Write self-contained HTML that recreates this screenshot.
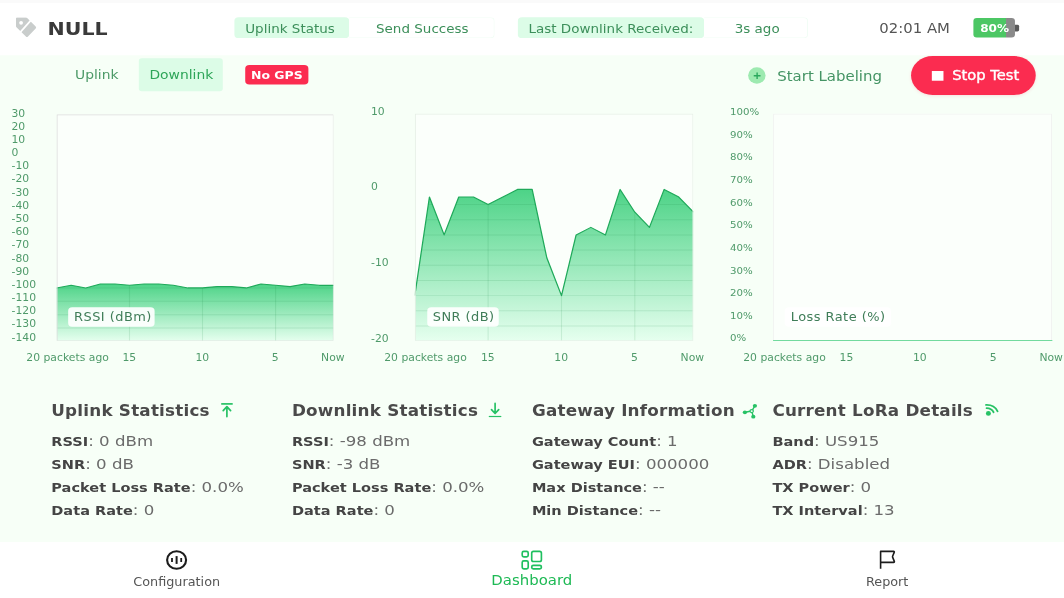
<!DOCTYPE html>
<html><head><meta charset="utf-8">
<style>
*{box-sizing:border-box;margin:0;padding:0}
html,body{width:1064px;height:598px;overflow:hidden;background:#f7fff7}
#root{position:absolute;left:0;top:0;width:1280px;height:800px;transform-origin:0 0;transform:scale(0.83125,0.7475);font-family:"DejaVu Sans","Liberation Sans",sans-serif;background:#f7fff7}
b{font-weight:bold}
</style></head><body><div id="root">
<div style="position:absolute;left:0.00px;top:0.00px;width:1280.00px;height:73.58px;background:#fff"></div>
<div style="position:absolute;left:0.00px;top:0.00px;width:1280.00px;height:4.01px;background:#fafafa"></div>
<svg style="position:absolute;left:18.65px;top:23.41px" width="25.26" height="28.09" viewBox="0 0 21 21" preserveAspectRatio="none"><path d="M1.2,0.3 H10.3 a1.5,1.5 0 0 1 1.05,0.45 L19.9,9.3 a1.5,1.5 0 0 1 0,2.1 L12.2,19.4 a1.5,1.5 0 0 1 -2.1,0 L0.65,10 a1.5,1.5 0 0 1 -0.45,-1.05 V1.3 a1,1 0 0 1 1,-1 Z" fill="#c9cdcc"/><circle cx="5.3" cy="5.6" r="1.9" fill="#fff"/><line x1="16.6" y1="1.4" x2="2.6" y2="17.2" stroke="#fff" stroke-width="1.7"/></svg>
<div style="position:absolute;left:57.26px;top:24px;font-size:24.75px;line-height:29px;white-space:nowrap;transform:translate(0,0.36px);font-weight:bold;color:#3a3a3a">NULL</div>
<div style="position:absolute;left:281.86px;top:22.88px;width:137.98px;height:28.36px;background:#dcfce7;border-radius:5px"></div>
<div style="position:absolute;left:419.85px;top:22.88px;width:175.64px;height:28.36px;background:#fff;border:1.3px solid #f0fdf4;border-left:none;border-radius:0 5px 5px 0"></div>
<div style="position:absolute;left:294.98px;top:29px;font-size:16.25px;line-height:19px;white-space:nowrap;transform:translate(0,0.01px);color:#3c8f5a;">Uplink Status</div>
<div style="position:absolute;left:508.03px;top:29px;font-size:16.25px;line-height:19px;white-space:nowrap;transform:translate(-50%,0.01px);color:#3c8f5a;">Send Success</div>
<div style="position:absolute;left:622.56px;top:22.88px;width:224.00px;height:28.36px;background:#dcfce7;border-radius:5px"></div>
<div style="position:absolute;left:846.56px;top:22.88px;width:125.11px;height:28.36px;background:#fff;border:1.3px solid #f0fdf4;border-left:none;border-radius:0 5px 5px 0"></div>
<div style="position:absolute;left:635.67px;top:29px;font-size:16.25px;line-height:19px;white-space:nowrap;transform:translate(0,0.01px);color:#3c8f5a;">Last Downlink Received:</div>
<div style="position:absolute;left:910.92px;top:29px;font-size:16.25px;line-height:19px;white-space:nowrap;transform:translate(-50%,0.01px);color:#3c8f5a;">3s ago</div>
<div style="position:absolute;left:1057.80px;top:27px;font-size:17.9px;line-height:21px;white-space:nowrap;transform:translate(0,0.15px);color:#555">02:01 AM</div>
<div style="position:absolute;left:1170.53px;top:24.08px;width:50.05px;height:25.95px;border-radius:4px;background:linear-gradient(90deg,#4cc764 0,#4cc764 79.5%,#8a8a8a 79.5%)"></div>
<div style="position:absolute;left:1196.51px;top:30px;font-size:14.5px;line-height:16px;white-space:nowrap;transform:translate(-50%,0.34px);font-weight:bold;color:#fff">80%</div>
<div style="position:absolute;left:1221.41px;top:32.51px;width:4.33px;height:9.23px;background:#5a5a5a;border-radius:0 2px 2px 0"></div>
<div style="position:absolute;left:90.23px;top:91px;font-size:16.7px;line-height:19px;white-space:nowrap;transform:translate(0,0.35px);color:#4d9a68">Uplink</div>
<div style="position:absolute;left:166.98px;top:77.59px;width:100.57px;height:44.01px;background:#dcfce7;border-radius:3.5px"></div>
<div style="position:absolute;left:218.11px;top:91px;font-size:16.7px;line-height:19px;white-space:nowrap;transform:translate(-50%,0.35px);color:#2da558">Downlink</div>
<div style="position:absolute;left:294.74px;top:86.82px;width:76.51px;height:26.09px;background:#fb2c50;border-radius:5px"></div>
<div style="position:absolute;left:332.99px;top:92px;font-size:15px;line-height:18px;white-space:nowrap;transform:translate(-50%,0.22px);font-weight:bold;color:#fff">No GPS</div>
<div style="position:absolute;left:899.61px;top:89.63px;width:21.65px;height:22.74px;background:#9deab0;border-radius:50%"><svg width="100%" height="100%" viewBox="0 0 18 18" preserveAspectRatio="none"><path d="M9 5.6V12.4M5.6 9H12.4" stroke="#2aa85c" stroke-width="1.4" fill="none"/></svg></div>
<div style="position:absolute;left:934.98px;top:91px;font-size:18px;line-height:21px;white-space:nowrap;transform:translate(0,0.09px);color:#449464">Start Labeling</div>
<div style="position:absolute;left:1095.94px;top:74.65px;width:150.14px;height:52.71px;background:#fb2c50;border-radius:999px;box-shadow:0 1.5px 4px rgba(251,44,80,0.15)"></div>
<div style="position:absolute;left:1120.60px;top:94.58px;width:14.08px;height:13.65px;background:#fff"></div>
<div style="position:absolute;left:1145.50px;top:92px;font-size:17.7px;line-height:20px;white-space:nowrap;transform:translate(0,-0.31px);color:#fff;-webkit-text-stroke:0.5px #fff">Stop Test</div>
<svg style="position:absolute;left:67.73px;top:152.51px" width="333.71" height="303.68" viewBox="0 0 333.71 303.68">
<rect x="0" y="0" width="333.71" height="303.68" fill="#fbfffb"/>
<defs><linearGradient id="g1" gradientUnits="userSpaceOnUse" x1="0" y1="226.9" x2="0" y2="303.7"><stop offset="0" stop-color="#4dd387"/><stop offset="1" stop-color="#e6ffef"/></linearGradient><clipPath id="c1"><path d="M0.0,232.2 L17.6,228.7 L35.1,232.2 L52.7,226.9 L70.3,226.9 L87.8,228.7 L105.4,226.9 L122.9,226.9 L140.5,228.7 L158.1,232.2 L175.6,232.2 L193.2,230.4 L210.8,230.4 L228.3,232.2 L245.9,226.9 L263.5,228.7 L281.0,230.4 L298.6,226.9 L316.2,228.7 L333.7,228.7 L333.7,303.7 L0,303.7 Z"/></clipPath></defs>
<path d="M0.0,232.2 L17.6,228.7 L35.1,232.2 L52.7,226.9 L70.3,226.9 L87.8,228.7 L105.4,226.9 L122.9,226.9 L140.5,228.7 L158.1,232.2 L175.6,232.2 L193.2,230.4 L210.8,230.4 L228.3,232.2 L245.9,226.9 L263.5,228.7 L281.0,230.4 L298.6,226.9 L316.2,228.7 L333.7,228.7 L333.7,303.7 L0,303.7 Z" fill="url(#g1)"/>
<g clip-path="url(#c1)" stroke="#15803d" stroke-opacity="0.13" stroke-width="1.3">
<line x1="0" y1="17.9" x2="333.7" y2="17.9"/>
<line x1="0" y1="35.7" x2="333.7" y2="35.7"/>
<line x1="0" y1="53.6" x2="333.7" y2="53.6"/>
<line x1="0" y1="71.5" x2="333.7" y2="71.5"/>
<line x1="0" y1="89.3" x2="333.7" y2="89.3"/>
<line x1="0" y1="107.2" x2="333.7" y2="107.2"/>
<line x1="0" y1="125.0" x2="333.7" y2="125.0"/>
<line x1="0" y1="142.9" x2="333.7" y2="142.9"/>
<line x1="0" y1="160.8" x2="333.7" y2="160.8"/>
<line x1="0" y1="178.6" x2="333.7" y2="178.6"/>
<line x1="0" y1="196.5" x2="333.7" y2="196.5"/>
<line x1="0" y1="214.4" x2="333.7" y2="214.4"/>
<line x1="0" y1="232.2" x2="333.7" y2="232.2"/>
<line x1="0" y1="250.1" x2="333.7" y2="250.1"/>
<line x1="0" y1="268.0" x2="333.7" y2="268.0"/>
<line x1="0" y1="285.8" x2="333.7" y2="285.8"/>
<line x1="87.8" y1="0" x2="87.8" y2="303.7"/>
<line x1="175.6" y1="0" x2="175.6" y2="303.7"/>
<line x1="263.5" y1="0" x2="263.5" y2="303.7"/>
</g>
<path d="M0.0,232.2 L17.6,228.7 L35.1,232.2 L52.7,226.9 L70.3,226.9 L87.8,228.7 L105.4,226.9 L122.9,226.9 L140.5,228.7 L158.1,232.2 L175.6,232.2 L193.2,230.4 L210.8,230.4 L228.3,232.2 L245.9,226.9 L263.5,228.7 L281.0,230.4 L298.6,226.9 L316.2,228.7 L333.7,228.7" fill="none" stroke="#1fa95a" stroke-width="1.5" stroke-linejoin="round"/>
<rect x="0.6" y="0.6" width="332.51" height="302.48" fill="none" stroke="#dcdcdc" stroke-width="1.2"/>
</svg>
<div style="position:absolute;left:13.83px;top:144px;font-size:13px;line-height:15px;white-space:nowrap;transform:translate(0,-0.08px);color:#4f9a6a;">30</div>
<div style="position:absolute;left:13.83px;top:162px;font-size:13px;line-height:15px;white-space:nowrap;transform:translate(0,-0.45px);color:#4f9a6a;">20</div>
<div style="position:absolute;left:13.83px;top:179px;font-size:13px;line-height:15px;white-space:nowrap;transform:translate(0,0.18px);color:#4f9a6a;">10</div>
<div style="position:absolute;left:13.83px;top:197px;font-size:13px;line-height:15px;white-space:nowrap;transform:translate(0,-0.18px);color:#4f9a6a;">0</div>
<div style="position:absolute;left:13.83px;top:214px;font-size:13px;line-height:15px;white-space:nowrap;transform:translate(0,0.45px);color:#4f9a6a;">-10</div>
<div style="position:absolute;left:13.83px;top:232px;font-size:13px;line-height:15px;white-space:nowrap;transform:translate(0,0.08px);color:#4f9a6a;">-20</div>
<div style="position:absolute;left:13.83px;top:250px;font-size:13px;line-height:15px;white-space:nowrap;transform:translate(0,-0.29px);color:#4f9a6a;">-30</div>
<div style="position:absolute;left:13.83px;top:267px;font-size:13px;line-height:15px;white-space:nowrap;transform:translate(0,0.34px);color:#4f9a6a;">-40</div>
<div style="position:absolute;left:13.83px;top:285px;font-size:13px;line-height:15px;white-space:nowrap;transform:translate(0,-0.02px);color:#4f9a6a;">-50</div>
<div style="position:absolute;left:13.83px;top:303px;font-size:13px;line-height:15px;white-space:nowrap;transform:translate(0,-0.39px);color:#4f9a6a;">-60</div>
<div style="position:absolute;left:13.83px;top:320px;font-size:13px;line-height:15px;white-space:nowrap;transform:translate(0,0.24px);color:#4f9a6a;">-70</div>
<div style="position:absolute;left:13.83px;top:338px;font-size:13px;line-height:15px;white-space:nowrap;transform:translate(0,-0.13px);color:#4f9a6a;">-80</div>
<div style="position:absolute;left:13.83px;top:356px;font-size:13px;line-height:15px;white-space:nowrap;transform:translate(0,-0.49px);color:#4f9a6a;">-90</div>
<div style="position:absolute;left:13.83px;top:373px;font-size:13px;line-height:15px;white-space:nowrap;transform:translate(0,0.14px);color:#4f9a6a;">-100</div>
<div style="position:absolute;left:13.83px;top:391px;font-size:13px;line-height:15px;white-space:nowrap;transform:translate(0,-0.23px);color:#4f9a6a;">-110</div>
<div style="position:absolute;left:13.83px;top:408px;font-size:13px;line-height:15px;white-space:nowrap;transform:translate(0,0.40px);color:#4f9a6a;">-120</div>
<div style="position:absolute;left:13.83px;top:426px;font-size:13px;line-height:15px;white-space:nowrap;transform:translate(0,0.03px);color:#4f9a6a;">-130</div>
<div style="position:absolute;left:13.83px;top:444px;font-size:13px;line-height:15px;white-space:nowrap;transform:translate(0,-0.33px);color:#4f9a6a;">-140</div>
<div style="position:absolute;left:81.32px;top:471px;font-size:13px;line-height:15px;white-space:nowrap;transform:translate(-50%,0.08px);color:#4f9a6a;">20 packets ago</div>
<div style="position:absolute;left:155.55px;top:471px;font-size:13px;line-height:15px;white-space:nowrap;transform:translate(-50%,0.08px);color:#4f9a6a;">15</div>
<div style="position:absolute;left:243.37px;top:471px;font-size:13px;line-height:15px;white-space:nowrap;transform:translate(-50%,0.08px);color:#4f9a6a;">10</div>
<div style="position:absolute;left:331.19px;top:471px;font-size:13px;line-height:15px;white-space:nowrap;transform:translate(-50%,0.08px);color:#4f9a6a;">5</div>
<div style="position:absolute;left:400.48px;top:471px;font-size:13px;line-height:15px;white-space:nowrap;transform:translate(-50%,0.08px);color:#4f9a6a;">Now</div>
<div style="position:absolute;left:82.17px;top:411.10px;width:104.30px;height:26.09px;border-radius:5px;background:rgba(255,255,255,0.92)"></div>
<div style="position:absolute;left:89.02px;top:415px;font-size:15.6px;line-height:18px;white-space:nowrap;transform:translate(0,0.30px);color:#3f7d58;letter-spacing:0.55px">RSSI (dBm)</div>
<svg style="position:absolute;left:498.65px;top:151.84px" width="335.28" height="304.35" viewBox="0 0 335.28 304.35">
<rect x="0" y="0" width="335.28" height="304.35" fill="#fbfffb"/>
<defs><linearGradient id="g2" gradientUnits="userSpaceOnUse" x1="0" y1="101.4" x2="0" y2="304.3"><stop offset="0" stop-color="#4dd387"/><stop offset="1" stop-color="#e6ffef"/></linearGradient><clipPath id="c2"><path d="M0.0,243.5 L17.6,111.6 L35.3,162.3 L52.9,111.6 L70.6,111.6 L88.2,121.7 L105.9,111.6 L123.5,101.4 L141.2,101.4 L158.8,192.8 L176.5,243.5 L194.1,162.3 L211.8,152.2 L229.4,162.3 L247.0,101.4 L264.7,131.9 L282.3,152.2 L300.0,101.4 L317.6,111.6 L335.3,131.9 L335.3,304.3 L0,304.3 Z"/></clipPath></defs>
<path d="M0.0,243.5 L17.6,111.6 L35.3,162.3 L52.9,111.6 L70.6,111.6 L88.2,121.7 L105.9,111.6 L123.5,101.4 L141.2,101.4 L158.8,192.8 L176.5,243.5 L194.1,162.3 L211.8,152.2 L229.4,162.3 L247.0,101.4 L264.7,131.9 L282.3,152.2 L300.0,101.4 L317.6,111.6 L335.3,131.9 L335.3,304.3 L0,304.3 Z" fill="url(#g2)"/>
<g clip-path="url(#c2)" stroke="#15803d" stroke-opacity="0.13" stroke-width="1.3">
<line x1="0" y1="20.3" x2="335.3" y2="20.3"/>
<line x1="0" y1="40.6" x2="335.3" y2="40.6"/>
<line x1="0" y1="60.9" x2="335.3" y2="60.9"/>
<line x1="0" y1="81.2" x2="335.3" y2="81.2"/>
<line x1="0" y1="101.4" x2="335.3" y2="101.4"/>
<line x1="0" y1="121.7" x2="335.3" y2="121.7"/>
<line x1="0" y1="142.0" x2="335.3" y2="142.0"/>
<line x1="0" y1="162.3" x2="335.3" y2="162.3"/>
<line x1="0" y1="182.6" x2="335.3" y2="182.6"/>
<line x1="0" y1="202.9" x2="335.3" y2="202.9"/>
<line x1="0" y1="223.2" x2="335.3" y2="223.2"/>
<line x1="0" y1="243.5" x2="335.3" y2="243.5"/>
<line x1="0" y1="263.8" x2="335.3" y2="263.8"/>
<line x1="0" y1="284.1" x2="335.3" y2="284.1"/>
<line x1="88.2" y1="0" x2="88.2" y2="304.3"/>
<line x1="176.5" y1="0" x2="176.5" y2="304.3"/>
<line x1="264.7" y1="0" x2="264.7" y2="304.3"/>
</g>
<path d="M0.0,243.5 L17.6,111.6 L35.3,162.3 L52.9,111.6 L70.6,111.6 L88.2,121.7 L105.9,111.6 L123.5,101.4 L141.2,101.4 L158.8,192.8 L176.5,243.5 L194.1,162.3 L211.8,152.2 L229.4,162.3 L247.0,101.4 L264.7,131.9 L282.3,152.2 L300.0,101.4 L317.6,111.6 L335.3,131.9" fill="none" stroke="#1fa95a" stroke-width="1.5" stroke-linejoin="round"/>
<rect x="0.6" y="0.6" width="334.08" height="303.15" fill="none" stroke="#e6efe6" stroke-width="1.2"/>
</svg>
<div style="position:absolute;left:446.32px;top:142px;font-size:13px;line-height:15px;white-space:nowrap;transform:translate(0,0.31px);color:#4f9a6a;">10</div>
<div style="position:absolute;left:446.32px;top:243px;font-size:13px;line-height:15px;white-space:nowrap;transform:translate(0,-0.48px);color:#4f9a6a;">0</div>
<div style="position:absolute;left:446.32px;top:344px;font-size:13px;line-height:15px;white-space:nowrap;transform:translate(0,-0.21px);color:#4f9a6a;">-10</div>
<div style="position:absolute;left:446.32px;top:446px;font-size:13px;line-height:15px;white-space:nowrap;transform:translate(0,-0.27px);color:#4f9a6a;">-20</div>
<div style="position:absolute;left:511.88px;top:471px;font-size:13px;line-height:15px;white-space:nowrap;transform:translate(-50%,0.08px);color:#4f9a6a;">20 packets ago</div>
<div style="position:absolute;left:586.88px;top:471px;font-size:13px;line-height:15px;white-space:nowrap;transform:translate(-50%,0.08px);color:#4f9a6a;">15</div>
<div style="position:absolute;left:675.11px;top:471px;font-size:13px;line-height:15px;white-space:nowrap;transform:translate(-50%,0.08px);color:#4f9a6a;">10</div>
<div style="position:absolute;left:763.34px;top:471px;font-size:13px;line-height:15px;white-space:nowrap;transform:translate(-50%,0.08px);color:#4f9a6a;">5</div>
<div style="position:absolute;left:832.96px;top:471px;font-size:13px;line-height:15px;white-space:nowrap;transform:translate(-50%,0.08px);color:#4f9a6a;">Now</div>
<div style="position:absolute;left:513.68px;top:411.10px;width:86.62px;height:26.09px;border-radius:5px;background:rgba(255,255,255,0.92)"></div>
<div style="position:absolute;left:520.54px;top:415px;font-size:15.6px;line-height:18px;white-space:nowrap;transform:translate(0,0.30px);color:#3f7d58;letter-spacing:0.55px">SNR (dB)</div>
<svg style="position:absolute;left:929.92px;top:151.84px" width="335.64" height="304.35" viewBox="0 0 335.64 304.35">
<rect x="0" y="0" width="335.64" height="304.35" fill="#fbfffb"/>
<rect x="0.6" y="0.6" width="334.44" height="303.15" fill="none" stroke="#f1f3f1" stroke-width="1.2"/>
</svg>
<div style="position:absolute;left:878.20px;top:143px;font-size:12.3px;line-height:14px;white-space:nowrap;transform:translate(0,0.19px);color:#4f9a6a;">100%</div>
<div style="position:absolute;left:878.20px;top:173px;font-size:12.3px;line-height:14px;white-space:nowrap;transform:translate(0,0.45px);color:#4f9a6a;">90%</div>
<div style="position:absolute;left:878.20px;top:204px;font-size:12.3px;line-height:14px;white-space:nowrap;transform:translate(0,-0.29px);color:#4f9a6a;">80%</div>
<div style="position:absolute;left:878.20px;top:234px;font-size:12.3px;line-height:14px;white-space:nowrap;transform:translate(0,-0.03px);color:#4f9a6a;">70%</div>
<div style="position:absolute;left:878.20px;top:264px;font-size:12.3px;line-height:14px;white-space:nowrap;transform:translate(0,0.23px);color:#4f9a6a;">60%</div>
<div style="position:absolute;left:878.20px;top:294px;font-size:12.3px;line-height:14px;white-space:nowrap;transform:translate(0,0.49px);color:#4f9a6a;">50%</div>
<div style="position:absolute;left:878.20px;top:325px;font-size:12.3px;line-height:14px;white-space:nowrap;transform:translate(0,-0.25px);color:#4f9a6a;">40%</div>
<div style="position:absolute;left:878.20px;top:355px;font-size:12.3px;line-height:14px;white-space:nowrap;transform:translate(0,0.01px);color:#4f9a6a;">30%</div>
<div style="position:absolute;left:878.20px;top:385px;font-size:12.3px;line-height:14px;white-space:nowrap;transform:translate(0,0.27px);color:#4f9a6a;">20%</div>
<div style="position:absolute;left:878.20px;top:416px;font-size:12.3px;line-height:14px;white-space:nowrap;transform:translate(0,-0.47px);color:#4f9a6a;">10%</div>
<div style="position:absolute;left:878.20px;top:446px;font-size:12.3px;line-height:14px;white-space:nowrap;transform:translate(0,-0.21px);color:#4f9a6a;">0%</div>
<div style="position:absolute;left:943.76px;top:471px;font-size:13px;line-height:15px;white-space:nowrap;transform:translate(-50%,0.08px);color:#4f9a6a;">20 packets ago</div>
<div style="position:absolute;left:1018.25px;top:471px;font-size:13px;line-height:15px;white-space:nowrap;transform:translate(-50%,0.08px);color:#4f9a6a;">15</div>
<div style="position:absolute;left:1106.58px;top:471px;font-size:13px;line-height:15px;white-space:nowrap;transform:translate(-50%,0.08px);color:#4f9a6a;">10</div>
<div style="position:absolute;left:1194.90px;top:471px;font-size:13px;line-height:15px;white-space:nowrap;transform:translate(-50%,0.08px);color:#4f9a6a;">5</div>
<div style="position:absolute;left:1264.60px;top:471px;font-size:13px;line-height:15px;white-space:nowrap;transform:translate(-50%,0.08px);color:#4f9a6a;">Now</div>
<div style="position:absolute;left:944.36px;top:411.10px;width:127.52px;height:26.09px;border-radius:5px;background:rgba(255,255,255,0.92)"></div>
<div style="position:absolute;left:951.22px;top:415px;font-size:15.6px;line-height:18px;white-space:nowrap;transform:translate(0,0.30px);color:#3f7d58;letter-spacing:0.55px">Loss Rate (%)</div>
<div style="position:absolute;left:929.92px;top:454.58px;width:335.64px;height:1.87px;background:#45d180"></div>
<div style="position:absolute;left:61.71px;top:538px;font-size:20.2px;line-height:24px;white-space:nowrap;transform:translate(0,-0.21px);font-weight:bold;color:#4a4a4a;letter-spacing:0.25px">Uplink Statistics</div>
<div style="position:absolute;left:61.71px;top:578px;font-size:20px;line-height:24px;white-space:nowrap;transform:translate(0,-0.08px);color:#6b6b6b"><b style="font-size:17.5px;color:#444">RSSI</b>: 0 dBm</div>
<div style="position:absolute;left:61.71px;top:609px;font-size:20px;line-height:24px;white-space:nowrap;transform:translate(0,-0.31px);color:#6b6b6b"><b style="font-size:17.5px;color:#444">SNR</b>: 0 dB</div>
<div style="position:absolute;left:61.71px;top:639px;font-size:20px;line-height:24px;white-space:nowrap;transform:translate(0,-0.07px);color:#6b6b6b"><b style="font-size:17.5px;color:#444">Packet Loss Rate</b>: 0.0%</div>
<div style="position:absolute;left:61.71px;top:670px;font-size:20px;line-height:24px;white-space:nowrap;transform:translate(0,-0.44px);color:#6b6b6b"><b style="font-size:17.5px;color:#444">Data Rate</b>: 0</div>
<div style="position:absolute;left:351.16px;top:538px;font-size:20.2px;line-height:24px;white-space:nowrap;transform:translate(0,-0.21px);font-weight:bold;color:#4a4a4a;letter-spacing:0.25px">Downlink Statistics</div>
<div style="position:absolute;left:351.16px;top:578px;font-size:20px;line-height:24px;white-space:nowrap;transform:translate(0,-0.08px);color:#6b6b6b"><b style="font-size:17.5px;color:#444">RSSI</b>: -98 dBm</div>
<div style="position:absolute;left:351.16px;top:609px;font-size:20px;line-height:24px;white-space:nowrap;transform:translate(0,-0.31px);color:#6b6b6b"><b style="font-size:17.5px;color:#444">SNR</b>: -3 dB</div>
<div style="position:absolute;left:351.16px;top:639px;font-size:20px;line-height:24px;white-space:nowrap;transform:translate(0,-0.07px);color:#6b6b6b"><b style="font-size:17.5px;color:#444">Packet Loss Rate</b>: 0.0%</div>
<div style="position:absolute;left:351.16px;top:670px;font-size:20px;line-height:24px;white-space:nowrap;transform:translate(0,-0.44px);color:#6b6b6b"><b style="font-size:17.5px;color:#444">Data Rate</b>: 0</div>
<div style="position:absolute;left:639.88px;top:538px;font-size:20.2px;line-height:24px;white-space:nowrap;transform:translate(0,-0.21px);font-weight:bold;color:#4a4a4a;letter-spacing:0.25px">Gateway Information</div>
<div style="position:absolute;left:639.88px;top:578px;font-size:20px;line-height:24px;white-space:nowrap;transform:translate(0,-0.08px);color:#6b6b6b"><b style="font-size:17.5px;color:#444">Gateway Count</b>: 1</div>
<div style="position:absolute;left:639.88px;top:609px;font-size:20px;line-height:24px;white-space:nowrap;transform:translate(0,-0.31px);color:#6b6b6b"><b style="font-size:17.5px;color:#444">Gateway EUI</b>: 000000</div>
<div style="position:absolute;left:639.88px;top:639px;font-size:20px;line-height:24px;white-space:nowrap;transform:translate(0,-0.07px);color:#6b6b6b"><b style="font-size:17.5px;color:#444">Max Distance</b>: --</div>
<div style="position:absolute;left:639.88px;top:670px;font-size:20px;line-height:24px;white-space:nowrap;transform:translate(0,-0.44px);color:#6b6b6b"><b style="font-size:17.5px;color:#444">Min Distance</b>: --</div>
<div style="position:absolute;left:929.20px;top:538px;font-size:20.2px;line-height:24px;white-space:nowrap;transform:translate(0,-0.21px);font-weight:bold;color:#4a4a4a;letter-spacing:0.25px">Current LoRa Details</div>
<div style="position:absolute;left:929.20px;top:578px;font-size:20px;line-height:24px;white-space:nowrap;transform:translate(0,-0.08px);color:#6b6b6b"><b style="font-size:17.5px;color:#444">Band</b>: US915</div>
<div style="position:absolute;left:929.20px;top:609px;font-size:20px;line-height:24px;white-space:nowrap;transform:translate(0,-0.31px);color:#6b6b6b"><b style="font-size:17.5px;color:#444">ADR</b>: Disabled</div>
<div style="position:absolute;left:929.20px;top:639px;font-size:20px;line-height:24px;white-space:nowrap;transform:translate(0,-0.07px);color:#6b6b6b"><b style="font-size:17.5px;color:#444">TX Power</b>: 0</div>
<div style="position:absolute;left:929.20px;top:670px;font-size:20px;line-height:24px;white-space:nowrap;transform:translate(0,-0.44px);color:#6b6b6b"><b style="font-size:17.5px;color:#444">TX Interval</b>: 13</div>
<div style="position:absolute;left:0.00px;top:725.08px;width:1280.00px;height:74.92px;background:#fff"></div>
<div style="position:absolute;left:212.57px;top:770px;font-size:15.4px;line-height:18px;white-space:nowrap;transform:translate(-50%,-0.32px);color:#555">Configuration</div>
<div style="position:absolute;left:639.76px;top:766px;font-size:17.95px;line-height:21px;white-space:nowrap;transform:translate(-50%,-0.12px);color:#1db954">Dashboard</div>
<div style="position:absolute;left:1067.31px;top:769px;font-size:15.4px;line-height:18px;white-space:nowrap;transform:translate(-50%,0.41px);color:#555">Report</div>
</div>
<svg style="position:absolute;left:0;top:0" width="1064" height="598" viewBox="0 0 1064 598" fill="none" stroke-linecap="round" stroke-linejoin="round">
<g stroke="#27c265" stroke-width="1.7"><path d="M221.2,403.9H232.7" stroke-linecap="butt"/><path d="M226.9,416.6V406.9M223.2,410.7L226.9,406.7L230.6,410.7"/></g>
<g stroke="#27c265" stroke-width="1.7"><path d="M495.1,403.4V413.2M491.5,409.7L495.1,413.5L498.7,409.7"/><path d="M488.8,416.5H501.3" stroke-width="1.2" stroke-linecap="butt"/></g>
<g stroke="#27c265" stroke-width="1.4"><path d="M751.7,411.05L745,412.3M751.7,411.05L754.9,405.9M751.7,411.05L753.3,416.6"/><ellipse cx="751.7" cy="411.05" rx="1.7" ry="1.5" fill="#f7fff7" stroke-width="1.2"/></g>
<g fill="#27c265"><ellipse cx="744.9" cy="412.3" rx="2.1" ry="1.9"/><ellipse cx="754.9" cy="405.8" rx="2.1" ry="1.9"/><ellipse cx="753.3" cy="416.7" rx="2.1" ry="1.9"/></g>
<g stroke="#27c265" stroke-width="1.8"><path d="M986,404.9A12,10.5 0 0 1 997.6,411.3"/><path d="M986.6,408.2A8,7 0 0 1 993.6,412.2"/></g><ellipse cx="988.4" cy="413.4" rx="2.5" ry="2.3" fill="#27c265"/>
<g stroke="#1c1c1c"><ellipse cx="176.6" cy="560" rx="9.5" ry="8.8" stroke-width="2.1"/><path d="M176.6,556.1V563.9" stroke-width="2" stroke-linecap="butt"/><path d="M172,558.1V561.9M181.2,558.1V561.9" stroke-width="1.8" stroke-linecap="butt"/></g>
<g stroke="#1fbf5f" stroke-width="1.65"><rect x="522.2" y="551.3" width="6" height="5.6" rx="1.6"/><rect x="531.7" y="551.3" width="9.7" height="10.2" rx="1.8"/><rect x="522.2" y="560.9" width="6" height="8" rx="1.6"/><rect x="531.7" y="565.3" width="9.7" height="3.6" rx="1.6"/></g>
<g stroke="#1c1c1c" stroke-width="1.6" stroke-linecap="butt" stroke-linejoin="miter"><path d="M880.6,568.8V551.4H893.6Q894.6,551.4 894.2,552.4L892.6,556.2Q892.4,556.8 892.7,557.4L894.3,561.4Q894.7,562.4 893.6,562.4H880.6" stroke-linejoin="round"/></g>
</svg>
</body></html>
